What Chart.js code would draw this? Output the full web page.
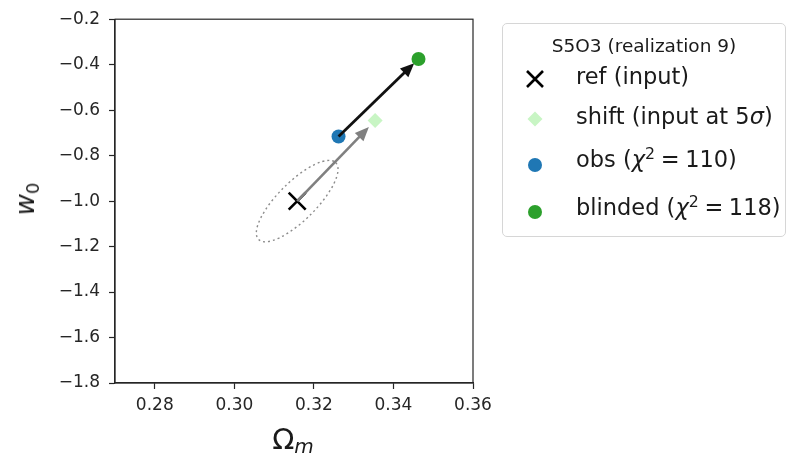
<!DOCTYPE html>
<html><head><meta charset="utf-8">
<script src="https://cdn.jsdelivr.net/npm/chart.js@4/dist/chart.umd.min.js"></script>
<style>
html,body{margin:0;padding:0;background:#fff;}
#wrap{position:relative;width:788px;height:456px;overflow:hidden;}
#c{position:absolute;left:0;top:0;}
.lbl{position:absolute;font-family:"DejaVu Sans";color:#1a1a1a;white-space:nowrap;}
#xlabel{left:293px;top:425px;font-size:29px;line-height:29px;transform:translateX(-50%);}
#xlabel sub{font-size:20px;font-style:italic;vertical-align:-4px;line-height:0;}
#ylabel{left:25px;top:199px;font-size:26px;line-height:26px;transform:translate(-50%,-50%) rotate(-90deg);}
#ylabel i{font-style:italic;}
#ylabel sub{font-size:18px;vertical-align:-5px;line-height:0;}
#legend{position:absolute;left:502px;top:23px;width:284px;height:214px;border:1px solid #d6d6d6;border-radius:5px;box-sizing:border-box;background:rgba(255,255,255,0.8);font-family:"DejaVu Sans";color:#1a1a1a;}
#legend .title{position:absolute;left:0;width:100%;text-align:center;font-size:18.5px;line-height:18.5px;white-space:nowrap;}
#legend .row{position:absolute;left:73px;font-size:22.5px;line-height:22.5px;white-space:nowrap;}
#legend svg{position:absolute;overflow:visible;}
#legend sup{font-size:0.7em;line-height:0;vertical-align:0.5em;}
#legend i{font-style:italic;}
</style></head>
<body>
<div id="wrap">
<canvas id="c" width="788" height="456"></canvas>
<div id="xlabel" class="lbl">Ω<sub>m</sub></div>
<div id="ylabel" class="lbl"><i>w</i><sub>0</sub></div>
<div id="legend"></div>
</div>
<script>
// ---- data ----
const xTicks = [0.28, 0.30, 0.32, 0.34, 0.36];
const xTickLabels = ['0.28', '0.30', '0.32', '0.34', '0.36'];
const yTicks = [-1.8, -1.6, -1.4, -1.2, -1.0, -0.8, -0.6, -0.4, -0.2];
const yTickLabels = ['−1.8', '−1.6', '−1.4', '−1.2', '−1.0', '−0.8', '−0.6', '−0.4', '−0.2'];
const seriesNames = ['ref (input)', 'shift (input at 5σ)', 'obs (χ² = 110)', 'blinded (χ² = 118)'];
const seriesHtml = ['ref (input)', 'shift (input at 5<i>σ</i>)', 'obs (<i>χ</i><sup>2</sup>&#8197;=&#8197;110)', 'blinded (<i>χ</i><sup>2</sup>&#8197;=&#8197;118)'];
const omegaM = [0.3158, 0.3354, 0.3262, 0.3463];
const w0 = [-1.0, -0.646, -0.716, -0.375];
const arrowFromIdx = [2, 0];
const arrowToIdx = [3, 1];
const ellipseMajorEnd = [0.3255, -0.831];
const ellipseAxisRatio = 0.35;
const legendTitle = 'S5O3 (realization 9)';

// ---- styles ----
const colors = ['#000000', '#c8f5c4', '#1f77b4', '#2ca02c'];
const pointStyles = ['crossRot', 'rectRot', 'circle', 'circle'];
const pointRadii = [12, 7.5, 7, 7];
const arrowColors = ['#111111', '#808080'];
const arrowWidths = [2.8, 2.6];
const arrowShrink = [6, 9];

function drawArrow(ctx, x1, y1, x2, y2, color, lw, shrink, hl, hw) {
  const ang = Math.atan2(y2 - y1, x2 - x1);
  const c = Math.cos(ang), s = Math.sin(ang);
  const tx = x2 - c * shrink, ty = y2 - s * shrink;
  const bx = tx - c * hl, by = ty - s * hl;
  ctx.save();
  ctx.strokeStyle = color; ctx.lineWidth = lw; ctx.lineCap = 'butt';
  ctx.beginPath(); ctx.moveTo(x1, y1); ctx.lineTo(bx + c * 2, by + s * 2); ctx.stroke();
  ctx.fillStyle = color;
  ctx.beginPath(); ctx.moveTo(tx, ty);
  ctx.lineTo(bx + s * hw, by - c * hw);
  ctx.lineTo(bx - s * hw, by + c * hw);
  ctx.closePath(); ctx.fill();
  ctx.restore();
}

const overlay = {
  id: 'overlay',
  beforeDatasetsDraw(chart) {
    const {ctx, scales: {x, y}} = chart;
    const cx = x.getPixelForValue(omegaM[0]), cy = y.getPixelForValue(w0[0]);
    const ex = x.getPixelForValue(ellipseMajorEnd[0]), ey = y.getPixelForValue(ellipseMajorEnd[1]);
    const a = Math.hypot(ex - cx, ey - cy), ang = Math.atan2(ey - cy, ex - cx);
    ctx.save();
    ctx.beginPath();
    ctx.ellipse(cx, cy, a, a * ellipseAxisRatio, ang, 0, Math.PI * 2);
    ctx.setLineDash([2, 3]);
    ctx.strokeStyle = '#8c8c8c'; ctx.lineWidth = 1.4;
    ctx.stroke();
    ctx.restore();
  },
  afterDatasetDraw(chart, args) {
    if (args.index !== 2) return;
    const {ctx, scales: {x, y}} = chart;
    for (let k = 0; k < arrowFromIdx.length; k++) {
      const i = arrowFromIdx[k], j = arrowToIdx[k];
      drawArrow(ctx, x.getPixelForValue(omegaM[i]), y.getPixelForValue(w0[i]),
        x.getPixelForValue(omegaM[j]), y.getPixelForValue(w0[j]),
        arrowColors[k], arrowWidths[k], arrowShrink[k], 14, 6);
    }
  },
  afterDraw(chart) {
    const {ctx, chartArea: a} = chart;
    ctx.save();
    ctx.strokeStyle = '#262626'; ctx.lineWidth = 1.2;
    ctx.strokeRect(a.left, a.top, a.right - a.left, a.bottom - a.top);
    ctx.restore();
  }
};

const datasets = seriesNames.map((name, i) => ({
  label: name,
  data: [{x: omegaM[i], y: w0[i]}],
  pointStyle: pointStyles[i],
  pointRadius: pointRadii[i],
  pointBackgroundColor: colors[i],
  pointBorderColor: colors[i],
  pointBorderWidth: i === 0 ? 2.6 : 0,
  order: 4 - i
}));

const tickFont = {family: 'DejaVu Sans', size: 17};
new Chart(document.getElementById('c'), {
  type: 'scatter',
  data: {datasets},
  plugins: [overlay],
  options: {
    responsive: false, animation: false,
    layout: {padding: {top: 15, right: 315, left: 0, bottom: 0}},
    plugins: {legend: {display: false}, tooltip: {enabled: false}},
    scales: {
      x: {
        type: 'linear', min: 0.27, max: 0.36,
        afterBuildTicks: s => { s.ticks = xTicks.map(v => ({value: v})); },
        afterFit: s => { s.height = 73; },
        ticks: {font: tickFont, color: '#262626', padding: 6, maxRotation: 0,
          callback: v => xTickLabels[xTicks.indexOf(v)]},
        grid: {drawOnChartArea: false, drawTicks: true, tickLength: 6, tickColor: '#262626', tickWidth: 1.2},
        border: {display: true, color: '#262626', width: 1.2},
        title: {display: false}
      },
      y: {
        type: 'linear', min: -1.8, max: -0.2,
        afterBuildTicks: s => { s.ticks = yTicks.map(v => ({value: v})); },
        afterFit: s => { s.width = 115; },
        ticks: {font: tickFont, color: '#262626', padding: 9,
          callback: v => yTickLabels[yTicks.indexOf(v)]},
        grid: {drawOnChartArea: false, drawTicks: true, tickLength: 6, tickColor: '#262626', tickWidth: 1.2},
        border: {display: true, color: '#262626', width: 1.2},
        title: {display: false}
      }
    }
  }
});

// ---- HTML legend ----
const legend = document.getElementById('legend');
const L = 502, T = 23;
const rowCenters = [77, 117, 160, 208];
const markerCenters = [78, 118, 164, 211];
let html = '<div class="title" style="top:' + (45 - 8.9 - T) + 'px">' + legendTitle + '</div>';
seriesHtml.forEach((h, i) => {
  const mx = 534 - L, my = markerCenters[i] - T;
  let svg;
  if (i === 0) {
    svg = '<svg width="20" height="20" style="left:' + (mx - 10) + 'px;top:' + (my - 10) + 'px"><path d="M2,2 L18,18 M18,2 L2,18" stroke="#000" stroke-width="2.6"/></svg>';
  } else if (i === 1) {
    svg = '<svg width="16" height="16" style="left:' + (mx - 8) + 'px;top:' + (my - 8) + 'px"><path d="M8,0.5 L15.5,8 L8,15.5 L0.5,8 Z" fill="' + colors[i] + '"/></svg>';
  } else {
    svg = '<svg width="14" height="14" style="left:' + (mx - 7) + 'px;top:' + (my - 7) + 'px"><circle cx="7" cy="7" r="7" fill="' + colors[i] + '"/></svg>';
  }
  html += svg + '<div class="row" style="top:' + (rowCenters[i] - 12.9 - T) + 'px">' + h + '</div>';
});
legend.innerHTML = html;
</script>
</body></html>
